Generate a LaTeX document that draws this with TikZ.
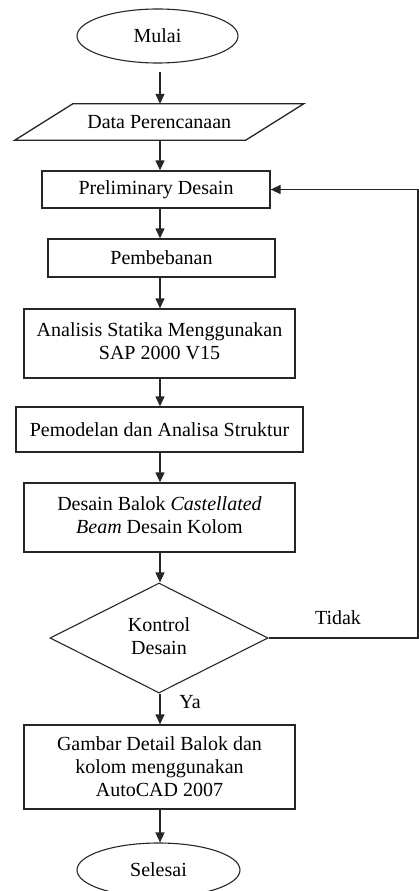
\documentclass[tikz,border=0pt]{standalone}
\usepackage{fontspec}
\setmainfont{Liberation Serif}
\usetikzlibrary{shapes.geometric,arrows.meta}
\newcommand{\uplines}[2]{\raisebox{#1}{\begin{tabular}{@{}c@{}}#2\end{tabular}}}
\begin{document}
\begin{tikzpicture}[x=1pt,y=-1pt,
  every node/.style={font=\fontsize{20}{23}\selectfont, inner sep=0pt, align=center},
  line/.style={line width=1.3pt, draw=black!85},
  arr/.style={line, -{Triangle[length=10pt,width=9pt]}},
  box/.style={draw=black!85, line width=1.3pt, rectangle},
  term/.style={draw=black!85, line width=1.1pt, ellipse, minimum width=161pt, minimum height=54pt},
  lbl/.style={font=\fontsize{20}{23}\selectfont}]
\useasboundingbox (0,0) rectangle (419,891);
\coordinate (spine) at (160,0);
\coordinate (rt) at (418,0);

\node[term] (mulai) at (157.5,36) {Mulai};
\node[minimum width=230.5pt, minimum height=36pt] (data) at (159.25,122) {Data Perencanaan};
\draw[line] ([xshift=29pt]data.north west) -- ([xshift=29pt]data.north east)
  -- ([xshift=-29pt]data.south east) -- ([xshift=-29pt]data.south west) -- cycle;
\node[box, minimum width=228pt, minimum height=37pt] (prelim) at (156,189.5) {Preliminary Desain};
\node[box, minimum width=227pt, minimum height=38pt] (beban) at (161.5,258) {Pembebanan};
\node[box, minimum width=271pt, minimum height=69pt] (analisis) at (159.5,343.5) {\uplines{5pt}{Analisis Statika Menggunakan\\SAP 2000 V15}};
\node[box, minimum width=287pt, minimum height=45pt] (model) at (159.5,429.5) {Pemodelan dan Analisa Struktur};
\node[box, minimum width=271pt, minimum height=69pt] (balok) at (159.5,517.5) {\uplines{6pt}{Desain Balok \textit{Castellated}\\\textit{Beam} Desain Kolom}};
\node[draw=black!85, line width=1.1pt, diamond, aspect=2, minimum width=218pt, minimum height=110pt] (kontrol) at (159,638) {\uplines{3pt}{Kontrol\\Desain}};
\node[box, minimum width=271pt, minimum height=84pt] (gambar) at (159.5,767) {Gambar Detail Balok dan\\kolom menggunakan\\AutoCAD 2007};
\node[term, minimum width=163pt] (selesai) at (158.5,870) {Selesai};

\node[lbl] (tidak) at (338,618) {Tidak};
\node[lbl] (ya) at (190,702) {Ya};

\draw[arr] (mulai.south -| spine) ++(0,8) -- (data.north -| spine);
\draw[arr] (data.south -| spine) -- (prelim.north -| spine);
\draw[arr] (prelim.south -| spine) -- (beban.north -| spine);
\draw[arr] (beban.south -| spine) -- (analisis.north -| spine);
\draw[arr] (analisis.south -| spine) -- (model.north -| spine);
\draw[arr] (model.south -| spine) -- (balok.north -| spine);
\draw[arr] (balok.south -| spine) -- (kontrol.north -| spine);
\draw[arr] (kontrol.south -| spine) -- (gambar.north -| spine);
\draw[arr] (gambar.south -| spine) -- (selesai.north -| spine);
\draw[arr] (kontrol.east) -- (kontrol.east -| rt) -- (prelim.east -| rt) -- (prelim.east);
\end{tikzpicture}
\end{document}
